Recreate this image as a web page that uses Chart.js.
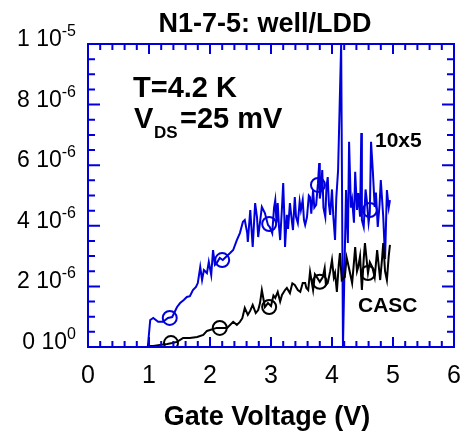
<!DOCTYPE html>
<html>
<head>
<meta charset="utf-8">
<script src="https://cdn.jsdelivr.net/npm/chart.js@4/dist/chart.umd.min.js"></script>
<style>
  html, body { margin: 0; padding: 0; background: #fff; }
  canvas { display: block; }
</style>
</head>
<body>
<canvas id="myChart" width="468" height="435"></canvas>
<script>
// drain current, units of 1e-6 A, vs gate voltage (V)
var blueX = [0.98, 1.02, 1.07, 1.15, 1.23, 1.31, 1.38, 1.46, 1.51, 1.57, 1.62, 1.67, 1.72, 1.77, 1.80, 1.84, 1.87, 1.90, 1.95, 1.98,
  2.02, 2.05, 2.08, 2.11, 2.16, 2.21, 2.26, 2.33, 2.38, 2.44, 2.49, 2.54, 2.57, 2.61, 2.62, 2.66, 2.70, 2.74, 2.77, 2.79,
  2.85, 2.90, 2.95, 2.98, 3.02, 3.05, 3.07, 3.09, 3.11, 3.13, 3.15, 3.18, 3.20, 3.22, 3.23, 3.26, 3.28, 3.31, 3.34, 3.36,
  3.39, 3.41, 3.44, 3.47, 3.49, 3.52, 3.54, 3.56, 3.59, 3.62, 3.64, 3.66, 3.69, 3.71, 3.74, 3.77, 3.79, 3.80, 3.82, 3.84,
  3.86, 3.89, 3.91, 3.93, 3.95, 3.97, 4.00, 4.02, 4.05, 4.07, 4.10, 4.15, 4.18, 4.23, 4.26, 4.28, 4.31, 4.33, 4.36, 4.38,
  4.41, 4.43, 4.46, 4.48, 4.49, 4.52, 4.55, 4.57, 4.60, 4.62, 4.64, 4.67, 4.70, 4.72, 4.75, 4.78, 4.80, 4.84, 4.87, 4.90,
  4.93, 4.95];
var blueY = [0, 0.89, 0.96, 0.83, 0.83, 0.96, 0.99, 1.32, 1.45, 1.55, 1.65, 1.68, 1.88, 1.98, 2.11, 2.64, 2.21, 2.54, 2.44, 2.81,
  2.38, 3.20, 2.71, 2.77, 2.94, 2.87, 2.97, 3.10, 3.20, 3.53, 3.76, 4.13, 4.19, 3.76, 3.47, 4.52, 3.30, 4.75, 4.29, 3.63,
  4.62, 4.42, 4.03, 3.96, 3.76, 4.60, 4.85, 4.10, 4.75, 4.00, 3.53, 4.60, 5.41, 4.20, 3.30, 4.36, 3.90, 4.75, 4.20, 3.86,
  4.95, 4.30, 4.09, 4.80, 4.52, 4.85, 4.20, 4.03, 4.29, 5.00, 4.95, 4.40, 5.18, 4.60, 4.69, 5.40, 6.07, 4.90, 5.18, 5.84,
  4.60, 4.29, 5.30, 5.61, 4.70, 4.36, 5.20, 4.36, 3.53, 4.90, 5.84, 10.0, 0, 5.18, 3.43, 6.77, 4.60, 4.85, 4.10, 5.78,
  4.52, 5.08, 4.30, 7.06, 4.19, 3.96, 5.20, 4.85, 4.10, 4.42, 6.77, 5.78, 4.62, 5.10, 3.96, 4.70, 5.51, 4.30, 2.90, 5.18,
  4.60, 4.85];

var blackX = [0.97, 1.07, 1.18, 1.30, 1.38, 1.46, 1.56, 1.67, 1.79, 1.89, 1.95, 2.00, 2.11, 2.20, 2.28, 2.38, 2.44, 2.49, 2.53, 2.57,
  2.62, 2.66, 2.70, 2.75, 2.79, 2.82, 2.85, 2.90, 2.95, 3.00, 3.04, 3.07, 3.11, 3.15, 3.18, 3.23, 3.26, 3.31, 3.35, 3.39,
  3.44, 3.48, 3.52, 3.56, 3.58, 3.61, 3.64, 3.69, 3.72, 3.75, 3.80, 3.85, 3.88, 3.90, 3.93, 3.97, 4.00, 4.03, 4.05, 4.08,
  4.11, 4.13, 4.16, 4.21, 4.24, 4.26, 4.30, 4.33, 4.36, 4.38, 4.41, 4.43, 4.46, 4.49, 4.52, 4.54, 4.59, 4.62, 4.66, 4.70,
  4.74, 4.77, 4.79, 4.82, 4.84, 4.87, 4.90, 4.93, 4.95];
var blackY = [0.03, 0.03, 0.07, 0.10, 0.13, 0.17, 0.30, 0.30, 0.33, 0.40, 0.53, 0.56, 0.63, 0.63, 0.63, 0.83, 0.73, 0.83, 0.95, 1.29,
  1.06, 1.20, 1.39, 1.12, 1.22, 1.45, 1.88, 1.32, 1.45, 1.35, 1.70, 1.62, 1.82, 1.50, 1.72, 1.88, 1.95, 1.78, 2.10, 2.05,
  1.88, 1.82, 2.11, 2.11, 1.95, 1.88, 2.48, 1.88, 2.40, 2.31, 2.15, 2.31, 2.60, 2.05, 2.11, 2.50, 2.87, 2.30, 2.44, 1.82,
  2.70, 3.10, 2.21, 2.31, 2.95, 2.77, 2.40, 2.11, 2.80, 3.30, 2.50, 2.64, 3.00, 1.88, 2.90, 3.43, 2.44, 2.80, 2.64, 2.30,
  3.20, 2.60, 2.21, 2.90, 3.43, 2.50, 2.21, 3.00, 3.37];

// open circle markers on each curve
var blueMarkX = [1.34, 2.20, 2.97, 3.77, 4.62];
var blueMarkY = [0.96, 2.87, 4.06, 5.35, 4.52];
var blackMarkX = [1.36, 2.16, 2.97, 3.80, 4.59];
var blackMarkY = [0.13, 0.63, 1.32, 2.15, 2.44];

// axes
var xTicks = [0, 1, 2, 3, 4, 5, 6];
var yTicks = [0, 2, 4, 6, 8, 10];
var yMant = ['0', '2', '4', '6', '8', '1'];
var yExp = ['0', '-6', '-6', '-6', '-6', '-5'];

var BLUE = '#0000dc';
var FONT = '"Liberation Sans", Arial, sans-serif';

function pts(xs, ys) {
  return xs.map(function (x, i) { return { x: x, y: ys[i] }; });
}

// frame, inward ticks, labels and notes
var decor = {
  id: 'decor',
  afterDatasetsDraw: function (chart) {
    var ctx = chart.ctx, a = chart.chartArea;
    var sx = chart.scales.x, sy = chart.scales.y;
    ctx.save();
    ctx.strokeStyle = BLUE;
    ctx.lineWidth = 2;
    ctx.strokeRect(a.left, a.top, a.right - a.left, a.bottom - a.top);

    ctx.beginPath();
    for (var i = 0; i <= 30; i++) {
      var v = i * 0.2, px = sx.getPixelForValue(v);
      var len = (i % 5 === 0) ? 10 : 6;
      ctx.moveTo(px, a.bottom); ctx.lineTo(px, a.bottom - len);
      ctx.moveTo(px, a.top); ctx.lineTo(px, a.top + len);
    }
    for (var j = 0; j <= 20; j++) {
      var py = sy.getPixelForValue(j * 0.5);
      var l2 = (j % 4 === 0) ? 12 : 7;
      ctx.moveTo(a.left, py); ctx.lineTo(a.left + l2, py);
      ctx.moveTo(a.right, py); ctx.lineTo(a.right - l2, py);
    }
    ctx.stroke();

    ctx.fillStyle = '#000';
    // x tick labels
    ctx.font = '25px ' + FONT;
    ctx.textAlign = 'center';
    ctx.textBaseline = 'alphabetic';
    xTicks.forEach(function (t) {
      ctx.fillText(String(t), sx.getPixelForValue(t), 383);
    });

    // y tick labels "m 10^e"
    yTicks.forEach(function (t, k) {
      var py = sy.getPixelForValue(t) + 2;
      ctx.font = '16px ' + FONT;
      var we = ctx.measureText(yExp[k]).width;
      ctx.textAlign = 'right';
      ctx.fillText(yExp[k], 76, py - 10);
      ctx.font = '23px ' + FONT;
      ctx.fillText(yMant[k] + ' 10', 76 - we, py);
    });

    // titles
    ctx.textAlign = 'center';
    ctx.font = 'bold 27px ' + FONT;
    ctx.fillText('N1-7-5: well/LDD', 265, 32);
    ctx.fillText('Gate Voltage (V)', 267, 425);

    // notes
    ctx.textAlign = 'left';
    ctx.font = 'bold 29px ' + FONT;
    ctx.fillText('T=4.2 K', 133, 97);
    ctx.fillText('V', 134, 128);
    ctx.font = 'bold 17px ' + FONT;
    ctx.fillText('DS', 154, 138);
    ctx.font = 'bold 29px ' + FONT;
    ctx.fillText('=25 mV', 180, 128);
    ctx.font = 'bold 21px ' + FONT;
    ctx.fillText('10x5', 375, 147);
    ctx.fillText('CASC', 358, 312);
    ctx.restore();
  }
};

var ctx = document.getElementById('myChart').getContext('2d');
var myChart = new Chart(ctx, {
  type: 'scatter',
  data: {
    datasets: [
      { data: pts(blackX, blackY), showLine: true, borderColor: '#000', borderWidth: 2, pointRadius: 0, tension: 0 },
      { data: pts(blueX, blueY), showLine: true, borderColor: BLUE, borderWidth: 2, pointRadius: 0, tension: 0 },
      { data: pts(blackMarkX, blackMarkY), showLine: false, pointRadius: 7, pointBorderWidth: 2,
        pointBorderColor: '#000', pointBackgroundColor: 'rgba(0,0,0,0)' },
      { data: pts(blueMarkX, blueMarkY), showLine: false, pointRadius: 7, pointBorderWidth: 2,
        pointBorderColor: BLUE, pointBackgroundColor: 'rgba(0,0,0,0)' }
    ]
  },
  options: {
    responsive: false,
    animation: false,
    devicePixelRatio: 1,
    layout: { padding: { left: 88, top: 44, right: 14, bottom: 88 } },
    plugins: { legend: { display: false }, tooltip: { enabled: false } },
    scales: {
      x: { type: 'linear', min: 0, max: 6, display: false },
      y: { type: 'linear', min: 0, max: 10, display: false }
    }
  },
  plugins: [decor]
});
</script>
</body>
</html>
